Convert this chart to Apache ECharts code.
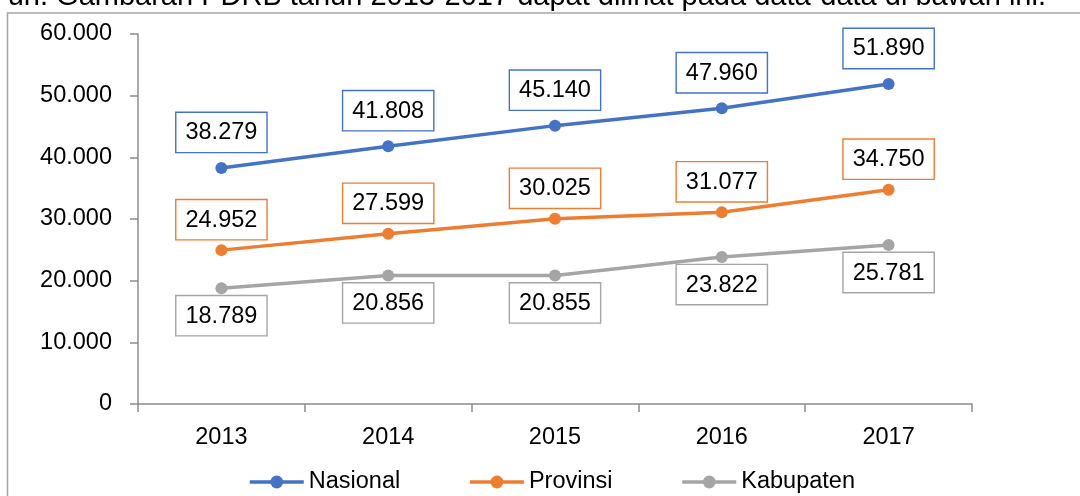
<!DOCTYPE html>
<html>
<head>
<meta charset="utf-8">
<script src="https://cdn.jsdelivr.net/npm/echarts@6/dist/echarts.min.js"></script>
<style>
html,body{margin:0;padding:0;background:#fff;}
#chart{width:1080px;height:496px;}
</style>
</head>
<body>
<div id="chart"></div>
<script>
var headerText = 'un. Gambaran PDRB tahun 2013-2017 dapat dilihat pada data-data di bawah ini.';
var categories = ['2013', '2014', '2015', '2016', '2017'];
var seriesNames = ['Nasional', 'Provinsi', 'Kabupaten'];
var nasional = [38279, 41808, 45140, 47960, 51890];
var provinsi = [24952, 27599, 30025, 31077, 34750];
var kabupaten = [18789, 20856, 20855, 23822, 25781];
var yTicks = [0, 10000, 20000, 30000, 40000, 50000, 60000];

var FONT = '"Liberation Sans", Arial, sans-serif';
var FS = 23.5;

function fmt(v) {
  return String(v).replace(/\B(?=(\d{3})+(?!\d))/g, '.');
}

var colors = ['#4472C4', '#ED7D31', '#A5A5A5'];
var labelPos = ['top', 'top', 'bottom'];
var labelDist = [10, 5, 2];
var dataSets = [nasional, provinsi, kabupaten];

var series = seriesNames.map(function (name, i) {
  return {
    name: name,
    type: 'line',
    data: dataSets[i],
    symbol: 'circle',
    symbolSize: 12,
    lineStyle: { color: colors[i], width: 3.5 },
    itemStyle: { color: colors[i] },
    emphasis: { disabled: true },
    label: {
      show: true,
      position: labelPos[i],
      distance: labelDist[i],
      formatter: function (p) { return fmt(p.value); },
      color: '#000',
      fontFamily: FONT,
      fontSize: FS,
      backgroundColor: '#fff',
      borderColor: colors[i],
      borderWidth: 1.4,
      padding: [7, 9, 6, 9],
      lineHeight: 26
    }
  };
});

var chart = echarts.init(document.getElementById('chart'), null, { renderer: 'canvas' });
chart.setOption({
  animation: false,
  backgroundColor: '#fff',
  color: colors,
  graphic: [
    {
      type: 'text',
      x: 1046, y: 11,
      style: {
        text: headerText,
        fill: '#000',
        font: '29px ' + FONT,
        textAlign: 'right',
        textVerticalAlign: 'bottom'
      },
      z: 100
    },
    {
      type: 'rect',
      shape: { x: 7.5, y: 13, width: 1100, height: 600 },
      style: { fill: null, stroke: '#a6a6a6', lineWidth: 1.5 },
      z: -1
    }
  ],
  grid: { left: 138, right: 108, top: 34, bottom: 92, containLabel: false },
  legend: {
    left: 243,
    top: 465,
    itemWidth: 54,
    itemHeight: 16,
    itemGap: 68,
    lineStyle: { width: 3.5 },
    textStyle: { fontFamily: FONT, fontSize: FS, color: '#000' },
    data: seriesNames
  },
  xAxis: {
    type: 'category',
    data: categories,
    boundaryGap: true,
    axisLine: { show: true, lineStyle: { color: '#8c8c8c', width: 1.5 } },
    axisTick: { show: true, length: 8, alignWithLabel: false, lineStyle: { color: '#8c8c8c', width: 1.5 } },
    axisLabel: { color: '#000', fontFamily: FONT, fontSize: FS, margin: 22 },
    splitLine: { show: false }
  },
  yAxis: {
    type: 'value',
    min: yTicks[0],
    max: yTicks[yTicks.length - 1],
    interval: yTicks[1] - yTicks[0],
    axisLine: { show: true, lineStyle: { color: '#8c8c8c', width: 1.5 } },
    axisTick: { show: true, length: 8, lineStyle: { color: '#8c8c8c', width: 1.5 } },
    axisLabel: {
      color: '#000', fontFamily: FONT, fontSize: FS, margin: 26,
      formatter: function (v) { return fmt(v); }
    },
    splitLine: { show: false }
  },
  series: series
});
</script>
</body>
</html>
